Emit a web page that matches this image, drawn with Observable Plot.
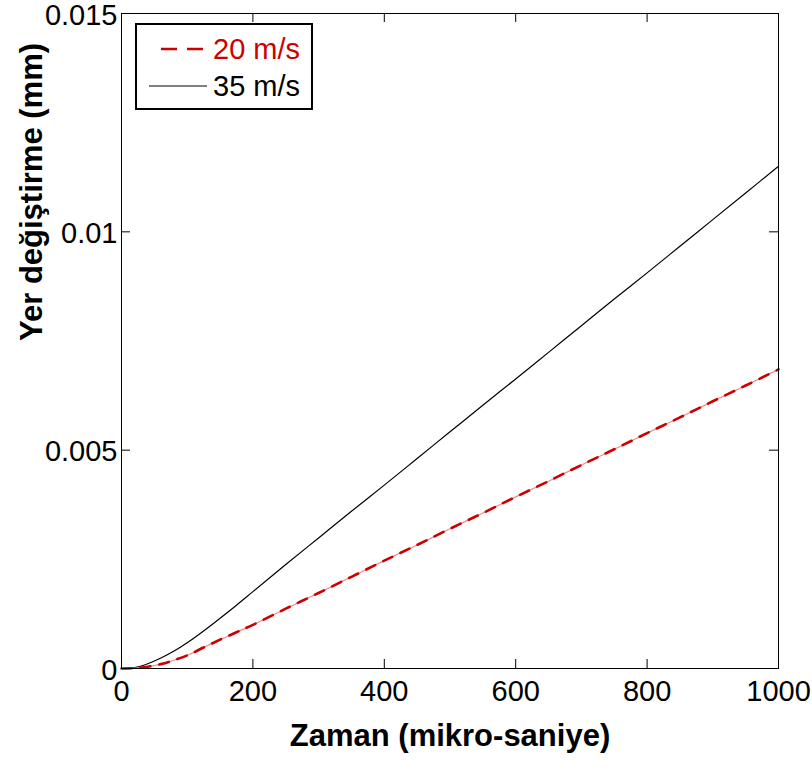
<!DOCTYPE html>
<html><head><meta charset="utf-8">
<script src="https://cdn.jsdelivr.net/npm/d3@7"></script>
<script src="https://cdn.jsdelivr.net/npm/@observablehq/plot@0.6"></script>
<style>
body{margin:0;background:#fff;}
#wrap{position:relative;width:812px;height:771px;font-family:"Liberation Sans",Arial,sans-serif;}
#wrap svg{overflow:visible;}
#legend{position:absolute;left:135px;top:23px;width:174px;height:83px;border:2px solid #000;background:#fff;}
#legend .row{position:absolute;left:0;height:34px;display:flex;align-items:center;font-size:29px;white-space:nowrap;}
#legend svg{display:block;}
</style></head><body><div id="wrap"></div>
<script>
// data
const time = [0,20,40,60,80,100,125,150,175,200,250,300,350,400,450,500,550,600,650,700,750,800,850,900,950,1000];
const disp20 = [0,0.00001,0.00004,0.0001,0.00019,0.0003,0.00048,0.00066,0.00083,0.001,0.00137,0.00173,0.0021,0.00247,0.00283,0.0032,0.00356,0.00393,0.00429,0.00466,0.00502,0.00539,0.00575,0.00612,0.00648,0.00685];
const disp35 = [0,0.00002,0.00011,0.00024,0.0004,0.00059,0.00086,0.00115,0.00145,0.00176,0.00238,0.00299,0.0036,0.0042,0.00481,0.00542,0.00603,0.00663,0.00724,0.00785,0.00846,0.00906,0.00967,0.01028,0.01089,0.0115];
const seriesLabels = ["20 m/s","35 m/s"];
const xTicks = [0,200,400,600,800,1000];
const yTicks = [0,0.005,0.01,0.015];
const xTitle = "Zaman (mikro-saniye)";
const yTitle = "Yer değiştirme (mm)";

const d20 = time.map((t,i)=>({t, v: disp20[i]}));
const d35 = time.map((t,i)=>({t, v: disp35[i]}));
const red = "#cc0000";
const tickLen = 9;
const W = 812, H = 771, mL = 121, mR = 34, mT = 13, mB = 103;
const fh = H - mT - mB, fw = W - mL - mR;

const chart = Plot.plot({
  width: W, height: H,
  marginLeft: mL, marginRight: mR, marginTop: mT, marginBottom: mB,
  style: {fontFamily: '"Liberation Sans", Arial, sans-serif', color: "#000", background: "#fff", overflow: "visible"},
  x: {domain: [0,1000]},
  y: {domain: [0,0.015]},
  marks: [
    Plot.line(d35, {x: "t", y: "v", stroke: "#000", strokeWidth: 1.2, curve: "catmull-rom"}),
    Plot.line(d20, {x: "t", y: "v", stroke: "#ee8c8c", strokeWidth: 1.2, curve: "catmull-rom"}),
    Plot.line(d20, {x: "t", y: "v", stroke: red, strokeWidth: 2.6, strokeDasharray: "10,9", curve: "catmull-rom"}),
    Plot.tickX(xTicks, {x: d=>d, stroke: "#000", insetTop: fh - tickLen}),
    Plot.tickX(xTicks, {x: d=>d, stroke: "#000", insetBottom: fh - tickLen}),
    Plot.tickY(yTicks, {y: d=>d, stroke: "#000", insetRight: fw - tickLen}),
    Plot.tickY(yTicks, {y: d=>d, stroke: "#000", insetLeft: fw - tickLen}),
    Plot.frame({stroke: "#000", strokeWidth: 1}),
    Plot.axisX(xTicks, {tickSize: 0, tickPadding: 12, tickFormat: d=>String(d), fontSize: 29, label: null}),
    Plot.axisY(yTicks, {tickSize: 0, tickPadding: 4, tickFormat: d=>String(d), fontSize: 29, label: null, dy: 2}),
    Plot.text([xTitle], {text: d=>d, frameAnchor: "bottom", dy: 77, fontSize: 31, fontWeight: "bold", fill: "#000"}),
    Plot.text([yTitle], {text: d=>d, frameAnchor: "left", dx: -89, rotate: -90, fontSize: 31, fontWeight: "bold", fill: "#000"})
  ]
});
const wrap = document.getElementById("wrap");
wrap.appendChild(chart);

// legend
const lg = document.createElement("div");
lg.id = "legend";
const samples = [
  {label: seriesLabels[0], color: red, dash: "16,10", width: 2.6, x1: 24, x2: 68, top: 7},
  {label: seriesLabels[1], color: "#000", dash: null, width: 1, x1: 12, x2: 70, top: 44}
];
samples.forEach(s => {
  const row = document.createElement("div");
  row.className = "row";
  row.style.top = s.top + "px";
  const svg = d3.create("svg").attr("width", 76).attr("height", 34);
  svg.append("line").attr("x1", s.x1).attr("x2", s.x2).attr("y1", 17).attr("y2", 17)
    .attr("stroke", s.color).attr("stroke-width", s.width).attr("stroke-dasharray", s.dash);
  row.appendChild(svg.node());
  const sp = document.createElement("span");
  sp.textContent = s.label;
  sp.style.color = s.color;
  row.appendChild(sp);
  lg.appendChild(row);
});
wrap.appendChild(lg);
</script>
</body></html>
